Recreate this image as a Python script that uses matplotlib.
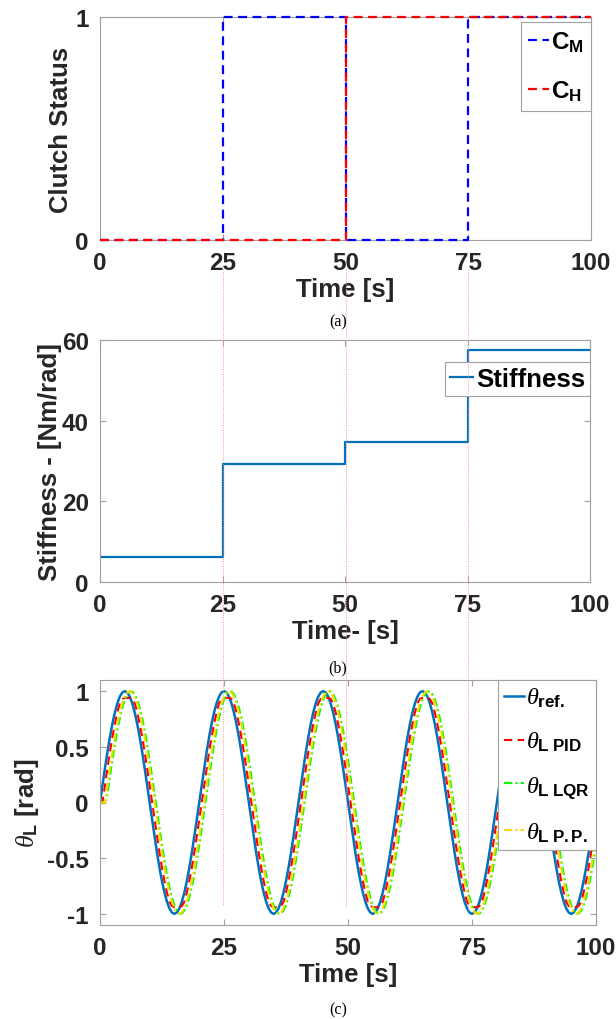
import numpy as np
import matplotlib.pyplot as plt
from matplotlib.lines import Line2D

plt.rcParams.update({'font.family': 'Liberation Sans', 'font.weight': 'bold', 'axes.labelweight': 'bold',
                     'mathtext.fontset': 'custom', 'mathtext.bf': 'Liberation Sans:bold',
                     'mathtext.it': 'Liberation Serif:italic:normal', 'mathtext.rm': 'Liberation Sans:bold',
                     'axes.edgecolor': '#a0a0a0', 'axes.linewidth': 0.8})

# (a) clutch states, step changes
clutch_t = [0, 25, 50, 75, 100]
c_m = [0, 1, 0, 1, 1]
c_h = [0, 0, 1, 1, 1]

# (b) stiffness levels
stiff_t = [0, 25, 50, 75, 100]
stiffness = [6.2, 29.2, 34.6, 57.5, 57.5]

# (c) one period (20 s) of each signal, sampled every 0.5 s
dt = 0.5
n_periods = 5
ref_period = [0, .156, .309, .454, .588, .707, .809, .891, .951, .988, 1.0, .988, .951, .891, .809, .707, .588, .454, .309, .156,
              0, -.156, -.309, -.454, -.588, -.707, -.809, -.891, -.951, -.988, -1.0, -.988, -.951, -.891, -.809, -.707, -.588, -.454, -.309, -.156]
pid_period = [-.156, 0, .156, .309, .454, .588, .707, .809, .891, .93, .94, .94, .94, .93, .891, .809, .707, .588, .454, .309,
              .156, 0, -.156, -.309, -.454, -.588, -.707, -.809, -.891, -.93, -.94, -.94, -.94, -.93, -.891, -.809, -.707, -.588, -.454, -.309]
lqr_period = [-.383, -.233, -.078, .078, .233, .383, .522, .649, .760, .853, .924, .972, .997, .997, .972, .924, .853, .760, .649, .522,
              .383, .233, .078, -.078, -.233, -.383, -.522, -.649, -.760, -.853, -.924, -.972, -.997, -.997, -.972, -.924, -.853, -.760, -.649, -.522]
pp_period = [-.309, -.156, 0, .156, .309, .454, .588, .707, .809, .891, .951, .988, 1.0, .988, .951, .891, .809, .707, .588, .454,
             .309, .156, 0, -.156, -.309, -.454, -.588, -.707, -.809, -.891, -.951, -.988, -1.0, -.988, -.951, -.891, -.809, -.707, -.588, -.454]
# first samples at rest before the lagged responses start
pid_start = [0.0]
lqr_start = [0.0, 0.0, 0.0]
pp_start = [0.0, 0.0]

markers_t = [25, 50, 75]
marker_bottom = [-0.93, -0.95, -0.97]


def build(period, start=()):
    y = np.concatenate([np.tile(period, n_periods), period[:1]]).astype(float)
    y[:len(start)] = start
    return y


t = np.arange(len(ref_period) * n_periods + 1) * dt
theta_ref = build(ref_period)
theta_pid = build(pid_period, pid_start)
theta_lqr = build(lqr_period, lqr_start)
theta_pp = build(pp_period, pp_start)

W, H = 616, 1020
fig = plt.figure(figsize=(W / 100, H / 100), dpi=100)

ax1 = fig.add_axes([100 / W, 1 - 241 / H, 491 / W, 223 / H])
ax2 = fig.add_axes([100 / W, 1 - 583 / H, 490 / W, 242 / H])
ax3 = fig.add_axes([100 / W, 1 - 926 / H, 496 / W, 245 / H])

TICK = 17.5
LAB = 18.5
DARK = '#262626'


def style(ax):
    ax.tick_params(direction='in', length=4, width=0.8, color='#a0a0a0', labelcolor=DARK,
                   labelsize=TICK, top=True, right=True, pad=8)
    ax.set_xlim(0, 100)
    ax.set_xticks([0, 25, 50, 75, 100])


def legend_box(ax, **kw):
    leg = ax.legend(loc='upper right', borderaxespad=0, fancybox=False, framealpha=1,
                    edgecolor='#a0a0a0', **kw)
    leg.get_frame().set_linewidth(0.8)
    return leg


# (a)
ax1.step(clutch_t, c_m, where='post', color='#0000ff', ls=(0, (4, 2.5)), lw=1.6, clip_on=False, zorder=3,
         label=r'$\mathbf{C_M}$')
ax1.step(clutch_t, c_h, where='post', color='#ff0000', ls=(0, (4, 2.5)), lw=1.6, clip_on=False, zorder=3,
         label=r'$\mathbf{C_H}$')
style(ax1)
ax1.set_ylim(0, 1)
ax1.set_yticks([0, 1])
ax1.set_xlabel('Time [s]', fontsize=LAB, labelpad=2, color=DARK)
ax1.set_ylabel('Clutch Status', fontsize=LAB, labelpad=2, color=DARK)
legend_box(ax1, bbox_to_anchor=(1, 1 - 5 / 223), fontsize=17.5, handlelength=0.85, handletextpad=0.1,
           labelspacing=1.0, borderpad=0.3)

# (b)
ax2.step(stiff_t, stiffness, where='post', color='#0072bd', lw=1.6, label='Stiffness')
style(ax2)
ax2.set_ylim(0, 60)
ax2.set_yticks([0, 20, 40, 60])
ax2.set_xlabel('Time- [s]', fontsize=LAB, labelpad=2, color=DARK)
ax2.set_ylabel('Stiffness - [Nm/rad]', fontsize=LAB, labelpad=0, color=DARK)
legend_box(ax2, bbox_to_anchor=(1, 1 - 22 / 242), fontsize=LAB, handlelength=0.9, handletextpad=0.1,
           borderpad=0.2)

# (c)
ax3.plot(t, theta_ref, color='#0072bd', lw=1.8, label=r'$\theta_{\mathbf{ref.}}$')
ax3.plot(t, theta_pid, color='#ff0000', lw=1.5, ls=(0, (4, 2.5)), label=r'$\theta_{\mathbf{L\ PID}}$')
ax3.plot(t, theta_lqr, color='#00ff00', lw=1.5, ls=(0, (4, 1.5, 1, 1.5)), label=r'$\theta_{\mathbf{L\ LQR}}$')
ax3.plot(t, theta_pp, color='#ffd700', lw=1.5, ls=(0, (4, 1.5, 1, 1.5)), label=r'$\theta_{\mathbf{L\ P.P.}}$')
style(ax3)
ax3.set_ylim(-1.1, 1.1)
ax3.set_yticks([-1, -0.5, 0, 0.5, 1])
ax3.set_yticklabels(['-1', '-0.5', '0', '0.5', '1'])
ax3.set_xlabel('Time [s]', fontsize=LAB, labelpad=2, color=DARK)
ax3.set_ylabel(r'$\theta_{\mathbf{L}}$ [rad]', fontsize=LAB, labelpad=4, color=DARK)
legend_box(ax3, fontsize=17.5, handlelength=0.8, handletextpad=0.1, labelspacing=0.85, borderpad=0.25)

# captions
for y, s in [(322, '(a)'), (668, '(b)'), (1010, '(c)')]:
    fig.text(338 / W, 1 - y / H, s, ha='center', va='center', fontsize=11.5,
             fontweight='normal', family='Liberation Serif')

# dotted markers running through the panels
to_fig = fig.transFigure.inverted()
for xm, yb in zip(markers_t, marker_bottom):
    xf = to_fig.transform(ax1.transData.transform((xm, 0)))[0]
    yt = 1 - 270 / H
    ybf = to_fig.transform(ax3.transData.transform((0, yb)))[1]
    fig.add_artist(Line2D([xf, xf], [yt, ybf], color='#ff8c8c', lw=0.7, ls=(0, (1, 1.5)), zorder=0.5))

fig.savefig('out.png', dpi=100)
